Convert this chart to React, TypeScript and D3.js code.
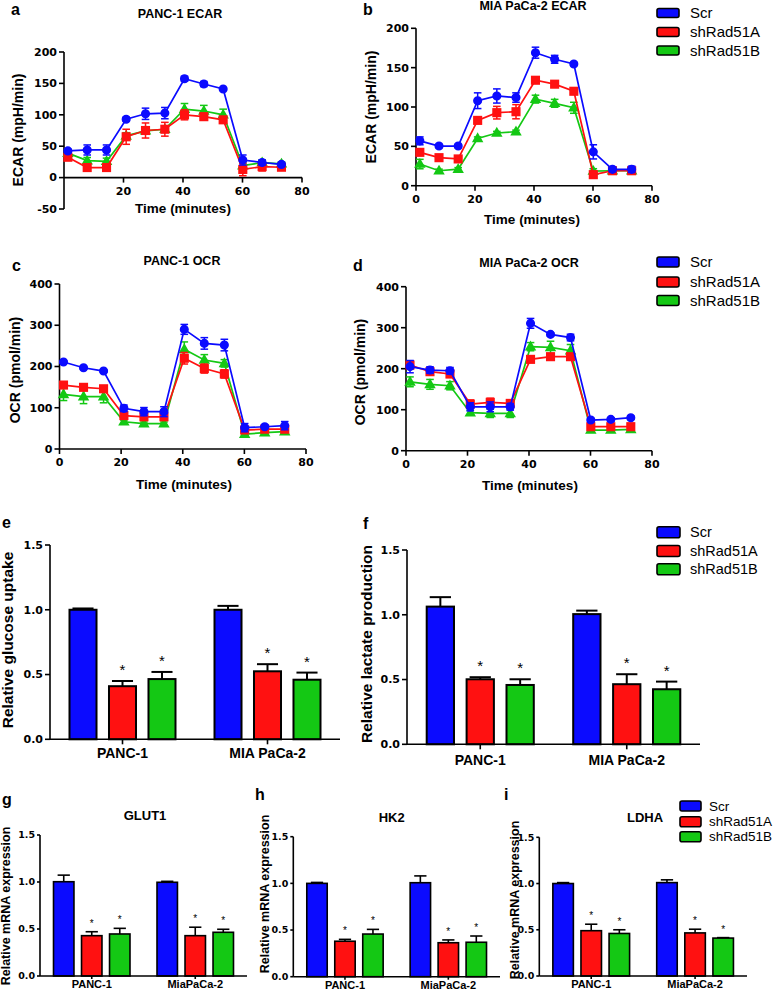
import React from "react";
import * as d3 from "d3";

const SANS = "'Liberation Sans', Arial, Helvetica, sans-serif";
const TICK = "'DejaVu Sans', 'Liberation Sans', sans-serif";

// ---------- shared categories ----------
const times = [1.3, 7.8, 14.3, 20.9, 27.4, 33.9, 40.5, 47.0, 53.5, 60.1, 66.6, 73.1];
const seriesNames = ["Scr", "shRad51A", "shRad51B"];
const colors = ["#0b0bff", "#ff1111", "#14c814"];
const xTicksLine = [0, 20, 40, 60, 80];
const xTicksLineA = [20, 40, 60, 80];
const ecarTicksA = [-50, 0, 50, 100, 150, 200];
const ecarTicksB = [0, 50, 100, 150, 200];
const ocrTicks = [0, 100, 200, 300, 400];
const barTicks = [0, 0.5, 1.0, 1.5];
const groupsAssay = ["PANC-1", "MIA PaCa-2"];
const groupsMrna = ["PANC-1", "MiaPaCa-2"];

// ---------- a: PANC-1 ECAR ----------
const panc1EcarScr = [42.5, 44, 44, 93, 101.6, 102.7, 157.4, 149, 141, 28, 24, 21];
const panc1EcarScrErr = [3, 8, 8, 3, 9, 9, 4, 4, 2, 8, 4, 3];
const panc1EcarA = [32.4, 16, 16, 65, 75, 77, 100, 97, 92, 13, 17.5, 16.5];
const panc1EcarAErr = [4, 3, 3, 12, 12, 11, 8, 5, 5, 10, 7, 4];
const panc1EcarB = [39, 27, 26, 66.5, 74.5, 77, 109, 106, 100, 19, 24, 22];
const panc1EcarBErr = [3, 5, 5, 5, 5, 5, 9, 9, 9, 4, 4, 3];

// ---------- b: MIA PaCa-2 ECAR ----------
const miaEcarScr = [57, 50.4, 50.4, 108, 114, 112, 169, 160.6, 154.7, 43, 20.8, 20.8];
const miaEcarScrErr = [5, 2, 2, 10, 9, 6, 7, 5, 2, 9, 3, 4];
const miaEcarA = [42.4, 35.6, 34, 83, 92.8, 94, 134, 129, 120, 14, 19, 19];
const miaEcarAErr = [3, 2, 3, 3, 8, 9, 3, 3, 3, 4, 3, 3];
const miaEcarB = [27.5, 19, 21, 60, 67, 68.6, 110, 104.7, 99, 18.6, 19, 19];
const miaEcarBErr = [6, 2, 2, 2, 2, 2, 5, 5, 7, 3, 3, 3];

// ---------- c: PANC-1 OCR ----------
const panc1OcrScr = [211, 197, 189, 98.6, 90.5, 90.5, 290, 256, 252, 51.7, 54, 56.6];
const panc1OcrScrErr = [3, 3, 3, 8, 10, 12, 12, 14, 14, 10, 5, 10];
const panc1OcrA = [155, 149.5, 146, 81, 78, 78, 220, 195, 182, 46, 48, 48];
const panc1OcrAErr = [4, 4, 4, 5, 5, 5, 14, 11, 10, 4, 4, 4];
const panc1OcrB = [132.5, 127, 127, 66, 61.4, 61.4, 241.6, 215.8, 207.7, 36, 39.6, 42];
const panc1OcrBErr = [15, 17, 15, 4, 4, 4, 18, 13, 9, 4, 4, 5];

// ---------- d: MIA PaCa-2 OCR ----------
const miaOcrScr = [205, 196.7, 195, 107, 107, 107, 310.6, 283.7, 276, 74.8, 76.4, 80.5];
const miaOcrScrErr = [15, 8, 8, 10, 12, 8, 12, 4, 8, 4, 4, 4];
const miaOcrA = [209, 192.7, 187, 113.8, 118, 115.4, 222.8, 229.3, 229.3, 58.5, 58.5, 58.5];
const miaOcrAErr = [10, 8, 8, 10, 10, 8, 6, 6, 6, 8, 6, 8];
const miaOcrB = [168, 161.8, 158.5, 92.7, 91, 91, 253.7, 252, 244, 50.4, 50.4, 52];
const miaOcrBErr = [12, 12, 10, 6, 10, 10, 10, 15, 15, 4, 4, 4];

// ---------- e: glucose uptake ----------
const glucoseScr = [1.0, 1.0];
const glucoseScrErr = [0.01, 0.03];
const glucoseA = [0.41, 0.525];
const glucoseAErr = [0.04, 0.055];
const glucoseB = [0.465, 0.46];
const glucoseBErr = [0.055, 0.055];

// ---------- f: lactate production ----------
const lactateScr = [1.063, 1.005];
const lactateScrErr = [0.073, 0.027];
const lactateA = [0.502, 0.464];
const lactateAErr = [0.016, 0.077];
const lactateB = [0.458, 0.425];
const lactateBErr = [0.044, 0.059];

// ---------- g: GLUT1 ----------
const glut1Scr = [1.003, 0.997];
const glut1ScrErr = [0.07, 0.01];
const glut1A = [0.429, 0.429];
const glut1AErr = [0.042, 0.09];
const glut1B = [0.447, 0.465];
const glut1BErr = [0.06, 0.032];

// ---------- h: HK2 ----------
const hk2Scr = [1.0, 1.007];
const hk2ScrErr = [0.01, 0.073];
const hk2A = [0.38, 0.364];
const hk2AErr = [0.02, 0.03];
const hk2B = [0.457, 0.369];
const hk2BErr = [0.05, 0.067];

// ---------- i: LDHA ----------
const ldhaScr = [1.0, 1.01];
const ldhaScrErr = [0.01, 0.03];
const ldhaA = [0.49, 0.466];
const ldhaAErr = [0.07, 0.04];
const ldhaB = [0.46, 0.41];
const ldhaBErr = [0.04, 0.005];

type S = { vals: number[]; errs: number[] };

function Marker({ si, cx, cy }: { si: number; cx: number; cy: number }) {
  if (si === 0) return <circle cx={cx} cy={cy} r={3.8} fill={colors[0]} />;
  if (si === 1) return <rect x={cx - 3.8} y={cy - 3.8} width={7.6} height={7.6} fill={colors[1]} />;
  const p = d3.symbol().type(d3.symbolTriangle).size(34)();
  return <path d={p || ""} transform={`translate(${cx},${cy + 0.5})`} fill={colors[2]} />;
}

function LinePanel(props: any) {
  const { L, data, title, yLabel, letter, xTickVals, yTickVals, yDomain } = props;
  const x = d3.scaleLinear().domain([0, 80]).range([L.x0, L.x1]);
  const y = d3.scaleLinear().domain(yDomain).range([L.yBottom, L.yTop]);
  const axisY = y(0);
  const lineGen = d3
    .line<number>()
    .x((_, i) => x(times[i]))
    .y((d) => y(d));
  const ax = "#000";
  return (
    <g fontFamily={SANS}>
      <text x={L.letterX} y={L.letterY} fontWeight="bold" fontSize={16}>{letter}</text>
      <text x={L.titleX} y={L.titleY} textAnchor="middle" fontWeight="bold" fontSize={12.5}>{title}</text>
      <text
        transform={`translate(${L.yLabelX},${L.yLabelY}) rotate(-90)`}
        textAnchor="middle"
        dy="0.35em"
        fontWeight="bold"
        fontSize={14}
      >
        {yLabel}
      </text>
      <text x={L.xLabelX} y={L.xLabelY} textAnchor="middle" fontWeight="bold" fontSize={13.5}>
        Time (minutes)
      </text>
      {/* y axis */}
      <line x1={L.x0} x2={L.x0} y1={L.yBottom} y2={L.yTop} stroke={ax} strokeWidth={1.6} />
      {yTickVals.map((t: number) => (
        <g key={"y" + t}>
          <line x1={L.x0 - 5} x2={L.x0} y1={y(t)} y2={y(t)} stroke={ax} strokeWidth={1.6} />
          <text x={L.x0 - 7} y={y(t)} dy="0.35em" textAnchor="end" fontFamily={TICK} fontWeight="bold" fontSize={11}>
            {t}
          </text>
        </g>
      ))}
      {/* x axis */}
      <line x1={L.x0} x2={L.x1} y1={axisY} y2={axisY} stroke={ax} strokeWidth={1.6} />
      {xTickVals.map((t: number) => (
        <g key={"x" + t}>
          <line x1={x(t)} x2={x(t)} y1={axisY} y2={axisY + 5} stroke={ax} strokeWidth={1.6} />
          <text x={x(t)} y={axisY + 17} textAnchor="middle" fontFamily={TICK} fontWeight="bold" fontSize={11}>
            {t}
          </text>
        </g>
      ))}
      {[2, 1, 0].map((si) => {
        const s: S = data[si];
        return (
          <g key={si}>
            <path d={lineGen(s.vals) || ""} fill="none" stroke={colors[si]} strokeWidth={1.7} />
            {s.vals.map((v, i) => {
              const cx = x(times[i]);
              const e = s.errs[i];
              return (
                <g key={i} stroke={colors[si]} strokeWidth={1.5}>
                  <line x1={cx} x2={cx} y1={y(v - e)} y2={y(v + e)} />
                  <line x1={cx - 3.8} x2={cx + 3.8} y1={y(v + e)} y2={y(v + e)} />
                  <line x1={cx - 3.8} x2={cx + 3.8} y1={y(v - e)} y2={y(v - e)} />
                  <Marker si={si} cx={cx} cy={y(v)} />
                </g>
              );
            })}
          </g>
        );
      })}
    </g>
  );
}

function BarPanel(props: any) {
  const { L, groups, data, title, yLabel, letter } = props;
  const xo = d3.scaleBand<string>().domain(groups).range([L.x0, L.x1]);
  const innerW = xo.bandwidth() * L.innerFrac;
  const xi = d3.scaleBand<string>().domain(seriesNames).range([0, innerW]).paddingInner(L.pad);
  const y = d3.scaleLinear().domain([0, 1.5]).range([L.yBottom, L.yTop]);
  const bw = xi.bandwidth();
  const y0 = y(0);
  return (
    <g fontFamily={SANS}>
      <text x={L.letterX} y={L.letterY} fontWeight="bold" fontSize={16}>{letter}</text>
      {title ? (
        <text x={L.titleX} y={L.titleY} textAnchor="middle" fontWeight="bold" fontSize={13}>{title}</text>
      ) : null}
      <text
        transform={`translate(${L.yLabelX},${L.yLabelY}) rotate(-90)`}
        textAnchor="middle"
        dy="0.35em"
        fontWeight="bold"
        fontSize={L.yLabelSize}
      >
        {yLabel}
      </text>
      {/* bars */}
      {groups.map((g: string, gi: number) => {
        const gx = (xo(g) || 0) + (xo.bandwidth() - innerW) / 2;
        return (
          <g key={g}>
            {seriesNames.map((sn, si) => {
              const s: S = data[si];
              const v = s.vals[gi];
              const e = s.errs[gi];
              const bx = gx + (xi(sn) || 0);
              const cx = bx + bw / 2;
              const capW = bw * L.capFrac;
              return (
                <g key={sn}>
                  <line x1={cx} x2={cx} y1={y(v)} y2={y(v + e)} stroke="#000" strokeWidth={L.barStroke} />
                  <line x1={cx - capW / 2} x2={cx + capW / 2} y1={y(v + e)} y2={y(v + e)} stroke="#000" strokeWidth={L.barStroke} />
                  <rect x={bx} y={y(v)} width={bw} height={y0 - y(v)} fill={colors[si]} stroke="#000" strokeWidth={L.barStroke} />
                  {si > 0 ? (
                    <text x={cx} y={y(v + e) - L.starGap} textAnchor="middle" fontSize={L.starSize}>
                      *
                    </text>
                  ) : null}
                </g>
              );
            })}
          </g>
        );
      })}
      {/* y axis */}
      <line x1={L.x0} x2={L.x0} y1={y0} y2={L.yTop} stroke="#000" strokeWidth={1.6} />
      {barTicks.map((t) => (
        <g key={t}>
          <line x1={L.x0 - L.tickLen} x2={L.x0} y1={y(t)} y2={y(t)} stroke="#000" strokeWidth={1.6} />
          <text x={L.x0 - L.tickLen - 2} y={y(t)} dy="0.35em" textAnchor="end" fontFamily={TICK} fontWeight="bold" fontSize={L.tickSize}>
            {d3.format(".1f")(t)}
          </text>
        </g>
      ))}
      {/* x axis */}
      <line x1={L.x0} x2={L.x1} y1={y0} y2={y0} stroke="#000" strokeWidth={1.6} />
      {groups.map((g: string) => {
        const cx = (xo(g) || 0) + xo.bandwidth() / 2;
        return (
          <g key={"t" + g}>
            <line x1={cx} x2={cx} y1={y0} y2={y0 + L.tickLen} stroke="#000" strokeWidth={1.6} />
            <text x={cx} y={y0 + L.groupDy} textAnchor="middle" fontWeight="bold" fontSize={L.groupSize}>
              {g}
            </text>
          </g>
        );
      })}
    </g>
  );
}

function Legend({ x, w, h, centers, textX, fontSize }: any) {
  return (
    <g fontFamily={SANS}>
      {seriesNames.map((n, i) => (
        <g key={n}>
          <rect x={x} y={centers[i] - h / 2} width={w} height={h} rx={2} fill={colors[i]} stroke="#000" strokeWidth={1.6} />
          <text x={textX} y={centers[i]} dy="0.35em" fontSize={fontSize}>
            {n}
          </text>
        </g>
      ))}
    </g>
  );
}

const LA = { x0: 64, x1: 302, yTop: 52, yBottom: 209, letterX: 11, letterY: 15, titleX: 180, titleY: 18, yLabelX: 18, yLabelY: 130, xLabelX: 183, xLabelY: 213 };
const LB = { x0: 416, x1: 652, yTop: 28.3, yBottom: 185.7, letterX: 363, letterY: 15, titleX: 533, titleY: 10, yLabelX: 371, yLabelY: 107, xLabelX: 532, xLabelY: 224 };
const LC = { x0: 59.5, x1: 306, yTop: 284, yBottom: 449, letterX: 12, letterY: 271, titleX: 182, titleY: 265, yLabelX: 15, yLabelY: 370, xLabelX: 184, xLabelY: 489 };
const LD = { x0: 406, x1: 652, yTop: 286.7, yBottom: 450.7, letterX: 353, letterY: 271, titleX: 529, titleY: 267, yLabelX: 360, yLabelY: 372, xLabelX: 530, xLabelY: 490 };

const bigBar = { innerFrac: 0.731, pad: 0.316, capFrac: 0.78, barStroke: 2, starSize: 15, starGap: 6, tickLen: 5, tickSize: 11, yLabelSize: 15.5, groupSize: 14 };
const smallBar = { innerFrac: 0.739, pad: 0.27, capFrac: 0.6, barStroke: 1.6, starSize: 10, starGap: 5, tickLen: 3, tickSize: 9.5, yLabelSize: 12.5, groupSize: 11, groupDy: 12 };
const LE = { ...bigBar, x0: 50, x1: 340, yTop: 545, yBottom: 739.3, letterX: 2, letterY: 528, yLabelX: 8, yLabelY: 640, groupDy: 19 };
const LF = { ...bigBar, x0: 407, x1: 700, yTop: 550, yBottom: 744.3, letterX: 363, letterY: 529, yLabelX: 366.5, yLabelY: 644, groupDy: 21 };
const LG = { ...smallBar, x0: 40, x1: 247, yTop: 835, yBottom: 976, letterX: 2, letterY: 805, titleX: 145, titleY: 820, yLabelX: 6, yLabelY: 906 };
const LH = { ...smallBar, x0: 293.3, x1: 500, yTop: 836.7, yBottom: 976.7, letterX: 255, letterY: 800, titleX: 391.7, titleY: 821.7, yLabelX: 265, yLabelY: 894 };
const LI = { ...smallBar, x0: 539.3, x1: 747, yTop: 837.3, yBottom: 976, letterX: 504, letterY: 800, titleX: 645, titleY: 822, yLabelX: 515, yLabelY: 900 };

export default function App() {
  const mk = (a: number[], b: number[]): S => ({ vals: a, errs: b });
  return (
    <svg width={776} height={992} style={{ position: "absolute", left: 0, top: 0, background: "#fff" }}>
      <rect x={0} y={0} width={776} height={992} fill="#fff" />
      <LinePanel
        L={LA}
        letter="a"
        title="PANC-1 ECAR"
        yLabel="ECAR (mpH/min)"
        yDomain={[-50, 200]}
        yTickVals={ecarTicksA}
        xTickVals={xTicksLineA}
        data={[mk(panc1EcarScr, panc1EcarScrErr), mk(panc1EcarA, panc1EcarAErr), mk(panc1EcarB, panc1EcarBErr)]}
      />
      <LinePanel
        L={LB}
        letter="b"
        title="MIA PaCa-2 ECAR"
        yLabel="ECAR (mpH/min)"
        yDomain={[0, 200]}
        yTickVals={ecarTicksB}
        xTickVals={xTicksLine}
        data={[mk(miaEcarScr, miaEcarScrErr), mk(miaEcarA, miaEcarAErr), mk(miaEcarB, miaEcarBErr)]}
      />
      <LinePanel
        L={LC}
        letter="c"
        title="PANC-1 OCR"
        yLabel="OCR (pmol/min)"
        yDomain={[0, 400]}
        yTickVals={ocrTicks}
        xTickVals={xTicksLine}
        data={[mk(panc1OcrScr, panc1OcrScrErr), mk(panc1OcrA, panc1OcrAErr), mk(panc1OcrB, panc1OcrBErr)]}
      />
      <LinePanel
        L={LD}
        letter="d"
        title="MIA PaCa-2 OCR"
        yLabel="OCR (pmol/min)"
        yDomain={[0, 400]}
        yTickVals={ocrTicks}
        xTickVals={xTicksLine}
        data={[mk(miaOcrScr, miaOcrScrErr), mk(miaOcrA, miaOcrAErr), mk(miaOcrB, miaOcrBErr)]}
      />
      <Legend x={657} w={22} h={9} centers={[13, 32, 50.5]} textX={690} fontSize={15} />
      <Legend x={657} w={22} h={10} centers={[262, 282, 300.5]} textX={690} fontSize={15} />

      <BarPanel
        L={LE}
        letter="e"
        groups={groupsAssay}
        yLabel="Relative glucose uptake"
        data={[mk(glucoseScr, glucoseScrErr), mk(glucoseA, glucoseAErr), mk(glucoseB, glucoseBErr)]}
      />
      <BarPanel
        L={LF}
        letter="f"
        groups={groupsAssay}
        yLabel="Relative lactate production"
        data={[mk(lactateScr, lactateScrErr), mk(lactateA, lactateAErr), mk(lactateB, lactateBErr)]}
      />
      <Legend x={657} w={23} h={11} centers={[532.3, 551, 569.3]} textX={690} fontSize={14.5} />

      <BarPanel
        L={LG}
        letter="g"
        title="GLUT1"
        groups={groupsMrna}
        yLabel="Relative mRNA expression"
        data={[mk(glut1Scr, glut1ScrErr), mk(glut1A, glut1AErr), mk(glut1B, glut1BErr)]}
      />
      <BarPanel
        L={LH}
        letter="h"
        title="HK2"
        groups={groupsMrna}
        yLabel="Relative mRNA expression"
        data={[mk(hk2Scr, hk2ScrErr), mk(hk2A, hk2AErr), mk(hk2B, hk2BErr)]}
      />
      <BarPanel
        L={LI}
        letter="i"
        title="LDHA"
        groups={groupsMrna}
        yLabel="Relative mRNA expression"
        data={[mk(ldhaScr, ldhaScrErr), mk(ldhaA, ldhaAErr), mk(ldhaB, ldhaBErr)]}
      />
      <Legend x={680} w={21} h={10} centers={[806, 821.7, 836.7]} textX={709} fontSize={13.5} />
    </svg>
  );
}
